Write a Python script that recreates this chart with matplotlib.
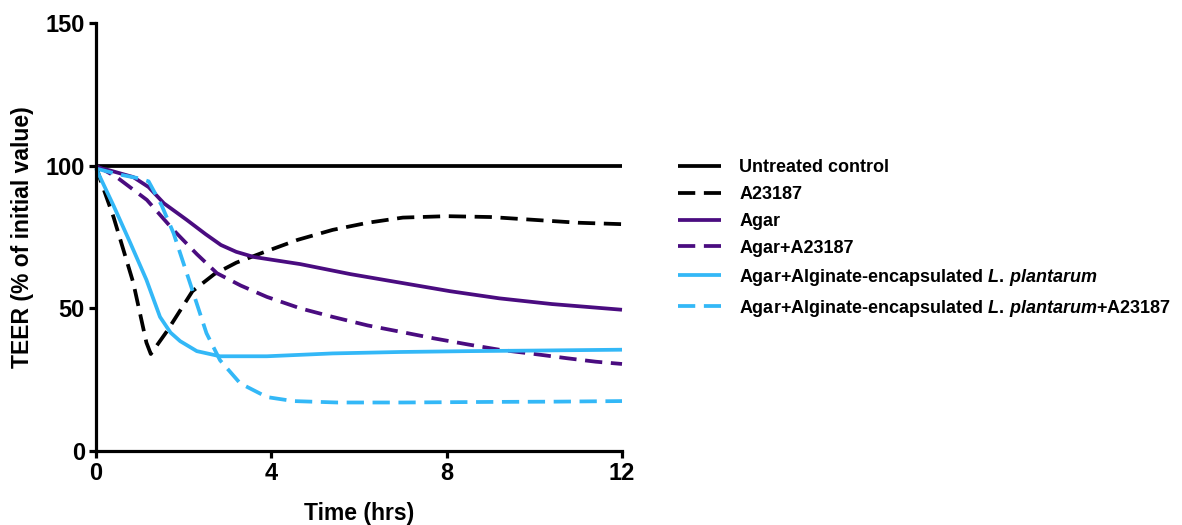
import matplotlib
matplotlib.use("Agg")
import matplotlib.pyplot as plt

plt.rcParams['font.family'] = ['Liberation Sans', 'DejaVu Sans']
plt.rcParams['font.weight'] = 'bold'
plt.rcParams['mathtext.fontset'] = 'custom'
plt.rcParams['mathtext.it'] = 'Liberation Sans:italic:bold'
plt.rcParams['mathtext.rm'] = 'Liberation Sans:bold'
plt.rcParams['mathtext.bf'] = 'Liberation Sans:bold'

# ---- data ----
t_control = [0, 12]
v_control = [100, 100]

t_a23187 = [0, 0.1, 0.4, 0.85, 1.15, 1.25, 1.62, 2.2, 2.7, 3.2, 3.8, 4.6, 5.4, 6.2, 7.0, 8.0, 9.0, 10.0, 11.0, 12.0]
v_a23187 = [100, 95, 82, 59, 38, 34, 42, 56, 62, 66, 69.5, 74, 77.5, 80, 81.8, 82.3, 82, 81, 80, 79.5]

t_agar = [0, 0.3, 0.85, 1.2, 1.55, 2.07, 2.5, 2.85, 3.2, 3.6, 4.66, 5.8, 6.94, 8.08, 9.2, 10.4, 12]
v_agar = [99.5, 98.4, 96, 92.5, 86.8, 81, 76, 72.2, 69.8, 68, 65.5, 62, 59, 56, 53.5, 51.5, 49.5]

t_agar_a = [0, 0.47, 1.16, 1.77, 2.3, 2.76, 3.3, 3.9, 4.66, 5.4, 6.2, 6.94, 7.7, 8.5, 9.2, 10.0, 10.75, 11.4, 12]
v_agar_a = [100, 96, 88, 77.4, 69, 62.3, 58, 54, 50, 47, 44, 41.8, 39.5, 37.3, 35.5, 34, 32.5, 31.3, 30.5]

t_lp = [0, 0.4, 0.78, 1.15, 1.46, 1.7, 1.92, 2.3, 2.83, 3.9, 5.4, 6.94, 8.5, 10, 12]
v_lp = [99, 86, 73, 60, 47, 41.5, 38.5, 35, 33.2, 33.2, 34.2, 34.7, 35, 35.2, 35.5]

t_lp_a = [0, 0.5, 1.0, 1.2, 1.5, 1.77, 2.2, 2.52, 2.83, 3.29, 3.9, 4.5, 5.5, 7, 9, 10.5, 12]
v_lp_a = [99, 97, 95.5, 94.5, 86, 76.3, 56.3, 41.3, 31.8, 23.7, 18.9, 17.5, 17, 17, 17.2, 17.3, 17.5]

labels = [
    "Untreated control",
    "A23187",
    "Agar",
    "Agar+A23187",
    r"Agar+Alginate-encapsulated $L.\,plantarum$",
    r"Agar+Alginate-encapsulated $L.\,plantarum$+A23187",
]
x_ticks = [0, 4, 8, 12]
y_ticks = [0, 50, 100, 150]

BLACK = "#000000"
PURPLE = "#4a0c80"
CYAN = "#33b8f7"

fig = plt.figure(figsize=(11.82, 5.25), dpi=100)
ax = fig.add_axes([96 / 1182, 74 / 525, 526 / 1182, 428 / 525])

lw = 2.7
dash = (4.6, 2.3)
series = [
    (t_control, v_control, BLACK, '-'),
    (t_a23187, v_a23187, BLACK, '--'),
    (t_agar, v_agar, PURPLE, '-'),
    (t_agar_a, v_agar_a, PURPLE, '--'),
    (t_lp, v_lp, CYAN, '-'),
    (t_lp_a, v_lp_a, CYAN, '--'),
]
handles = []
for (t, v, c, ls), lab in zip(series, labels):
    kw = dict(color=c, lw=lw, solid_capstyle='butt', solid_joinstyle='round', clip_on=False)
    if ls == '--':
        line, = ax.plot(t, v, linestyle='--', dashes=dash, **kw)
    else:
        line, = ax.plot(t, v, linestyle='-', **kw)
    handles.append(line)

ax.set_xlim(0, 12)
ax.set_ylim(0, 150)
ax.set_xticks(x_ticks)
ax.set_yticks(y_ticks)
for s in ['top', 'right']:
    ax.spines[s].set_visible(False)
for s in ['left', 'bottom']:
    ax.spines[s].set_linewidth(2.3)
ax.tick_params(axis='both', width=2.3, length=5, labelsize=17, pad=3)
for lab in ax.get_xticklabels() + ax.get_yticklabels():
    lab.set_fontweight('bold')

ax.set_xlabel("Time (hrs)", fontsize=16.5, fontweight='bold', labelpad=12)
ax.set_ylabel("TEER (% of initial value)", fontsize=16.5, fontweight='bold', labelpad=8)

leg = fig.legend(handles, labels, loc='upper left',
                 bbox_to_anchor=(678 / 1182, 1 - 159 / 525),
                 frameon=False, fontsize=13, handlelength=2.4,
                 handletextpad=1.0, labelspacing=0.55, borderpad=0, borderaxespad=0)
for txt in leg.get_texts():
    txt.set_fontweight('bold')

fig.savefig("out.png", dpi=100)
